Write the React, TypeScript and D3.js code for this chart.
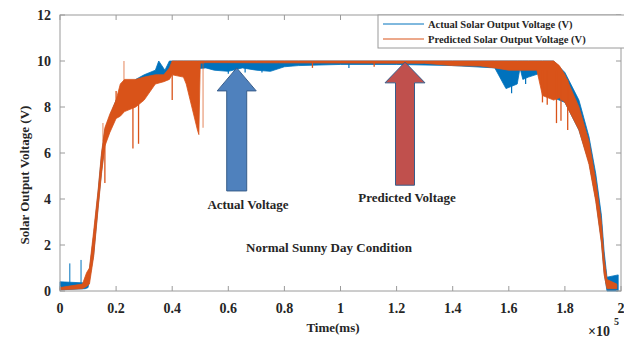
import * as d3 from "d3";

// time in units of 1e5 ms, voltage in V (envelope of the noisy traces)
const actualTime = [0, 0.09, 0.1, 0.12, 0.136, 0.148, 0.16, 0.178, 0.2, 0.23, 0.27, 0.3, 0.34, 0.352, 0.374, 0.39, 0.42, 0.52, 0.55, 0.6, 0.65, 0.7, 0.75, 0.8, 0.85, 1.0, 1.2, 1.4, 1.55, 1.59, 1.63, 1.64, 1.65, 1.67, 1.72, 1.76, 1.8, 1.85, 1.886, 1.91, 1.93, 1.94, 1.95, 1.99];
const actualLow = [0.05, 0.1, 0.15, 1.6, 3.7, 5.2, 6.4, 7.0, 7.6, 8.2, 8.8, 9.0, 9.2, 9.4, 9.2, 9.4, 9.6, 9.7, 9.6, 9.55, 9.7, 9.6, 9.55, 9.75, 9.8, 9.85, 9.85, 9.8, 9.7, 8.8, 9.0, 9.7, 9.2, 9.3, 9.5, 8.4, 8.2, 7.0, 5.6, 4.0, 2.2, 0.8, 0.0, 0.0];
const actualHigh = [0.4, 0.35, 0.4, 2.4, 4.3, 5.9, 7.0, 7.6, 8.3, 8.8, 9.2, 9.4, 9.6, 10.0, 9.6, 10, 10, 10, 10, 10, 10, 10, 10, 10, 10, 10, 10, 10, 10, 10, 10, 10, 10, 10, 10, 10, 9.5, 8.3, 6.7, 5.1, 3.3, 1.7, 0.6, 0.7];
const actualSpikeTime = [0.035, 0.075];
const actualSpikeVal = [1.2, 1.35];
const actualDipTime = [0.6, 0.66, 0.72, 1.03, 1.61, 1.66];
const actualDipVal = [9.45, 9.5, 9.5, 9.7, 8.6, 9.0];

const predTime = [0, 0.08, 0.095, 0.105, 0.12, 0.136, 0.148, 0.16, 0.178, 0.2, 0.215, 0.23, 0.27, 0.3, 0.34, 0.37, 0.39, 0.4, 0.44, 0.45, 0.47, 0.49, 0.495, 0.5, 0.52, 0.78, 1.3, 1.4, 1.5, 1.55, 1.6, 1.7, 1.72, 1.76, 1.78, 1.8, 1.85, 1.886, 1.91, 1.93, 1.94, 1.95, 1.985];
const predLow = [0.05, 0.1, 0.2, 0.3, 1.5, 3.6, 5.1, 6.3, 6.9, 7.5, 7.6, 7.8, 8.0, 8.3, 9.0, 9.1, 9.2, 9.4, 9.3, 9.0, 8.0, 7.0, 6.8, 9.9, 9.93, 9.92, 9.9, 9.8, 9.78, 9.7, 9.6, 9.6, 8.5, 8.3, 8.4, 8.2, 7.0, 5.5, 3.9, 2.1, 0.7, 0.1, 0.1];
const predHigh = [0.15, 0.3, 0.8, 1.0, 2.6, 4.4, 6.0, 7.1, 7.7, 8.3, 9.0, 9.2, 9.2, 9.3, 9.4, 9.4, 9.7, 10, 10, 10, 10, 10, 10, 10, 10, 10, 10, 10, 10, 10, 10, 10, 10, 10, 9.8, 9.4, 8.0, 6.5, 4.8, 3.0, 1.4, 0.5, 0.3];
const predSpikeTime = [0.153, 0.16, 0.2, 0.228, 0.26, 0.28, 0.4, 0.51, 0.9, 1.12, 1.72, 1.737, 1.77, 1.786, 1.81];
const predSpikeFrom = [6.5, 6.5, 8.0, 9.0, 8.2, 8.3, 9.4, 10, 10, 10, 9.6, 9.6, 9.6, 9.6, 9.2];
const predSpikeTo = [7.3, 4.7, 8.7, 10.0, 6.2, 6.4, 8.3, 7.1, 9.7, 9.75, 8.2, 8.1, 7.3, 7.4, 7.0];
const predFaint = [0.153, 0.228, 0.51];

const xTicks = [0, 0.2, 0.4, 0.6, 0.8, 1, 1.2, 1.4, 1.6, 1.8, 2];
const yTicks = [0, 2, 4, 6, 8, 10, 12];

const width = 624;
const height = 339;
const left = 60, right = 621, top = 15, bottom = 291;
const blue = "#0072BD";
const orange = "#D95319";
const axisColor = "#9a9a9a";
const textColor = "#262626";
const font = "'Liberation Serif', 'Times New Roman', serif";

export default function App() {
  const x = d3.scaleLinear().domain([0, 2]).range([left, right]);
  const y = d3.scaleLinear().domain([0, 12]).range([bottom, top]);

  const actualArea = d3.area<number>()
    .x(i => x(actualTime[i]))
    .y0(i => y(actualLow[i]))
    .y1(i => y(actualHigh[i]));
  const predArea = d3.area<number>()
    .x(i => x(predTime[i]))
    .y0(i => y(predLow[i]))
    .y1(i => y(predHigh[i]));

  // block arrow: tip value, head-base value, shaft-bottom value (pixel half widths)
  const arrow = (t: number, tipV: number, headV: number, baseV: number, headHalf: number, shaftHalf: number) => {
    const cx = x(t);
    const pts = [
      [cx, y(tipV)],
      [cx + headHalf, y(headV)],
      [cx + shaftHalf, y(headV)],
      [cx + shaftHalf, y(baseV)],
      [cx - shaftHalf, y(baseV)],
      [cx - shaftHalf, y(headV)],
      [cx - headHalf, y(headV)],
    ];
    return "M" + pts.map(p => p.join(",")).join("L") + "Z";
  };

  return (
    <svg width={width} height={height} style={{ position: "fixed", left: 0, top: 0 }} fontFamily={font}>
      <rect x={0} y={0} width={width} height={height} fill="#fff" />

      <path d={actualArea(actualTime.map((_, i) => i)) ?? ""} fill={blue} stroke={blue} strokeWidth={0.8} />
      {actualSpikeTime.map((t, i) => (
        <line key={"as" + i} x1={x(t)} x2={x(t)} y1={y(0.3)} y2={y(actualSpikeVal[i])} stroke={blue} strokeWidth={1} />
      ))}
      {actualDipTime.map((t, i) => (
        <line key={"ad" + i} x1={x(t)} x2={x(t)} y1={y(10)} y2={y(actualDipVal[i])} stroke={blue} strokeWidth={1.2} />
      ))}

      <path d={predArea(predTime.map((_, i) => i)) ?? ""} fill={orange} stroke={orange} strokeWidth={0.8} />
      {predSpikeTime.map((t, i) => (
        <line key={"ps" + i} x1={x(t)} x2={x(t)} y1={y(predSpikeFrom[i])} y2={y(predSpikeTo[i])}
          stroke={orange} strokeOpacity={predFaint.includes(t) ? 0.55 : 1} strokeWidth={1.3} />
      ))}

      {/* axes box */}
      <rect x={left} y={top} width={right - left} height={bottom - top} fill="none" stroke={axisColor} strokeWidth={1} />
      {xTicks.map(t => (
        <g key={"xt" + t}>
          <line x1={x(t)} x2={x(t)} y1={bottom} y2={bottom - 5} stroke={axisColor} />
          <line x1={x(t)} x2={x(t)} y1={top} y2={top + 5} stroke={axisColor} />
          <text x={x(t)} y={313} textAnchor="middle" fontSize={14} fontWeight="bold" fill={textColor}>{t}</text>
        </g>
      ))}
      {yTicks.map(v => (
        <g key={"yt" + v}>
          <line x1={left} x2={left + 5} y1={y(v)} y2={y(v)} stroke={axisColor} />
          <line x1={right} x2={right - 5} y1={y(v)} y2={y(v)} stroke={axisColor} />
          <text x={51} y={y(v) + 5} textAnchor="end" fontSize={14} fontWeight="bold" fill={textColor}>{v}</text>
        </g>
      ))}

      <text x={333} y={332} textAnchor="middle" fontSize={13} fontWeight="bold" fill={textColor}>Time(ms)</text>
      <text x={588} y={336} fontSize={14} fontWeight="bold" fill={textColor}>×10</text>
      <text x={614} y={325} fontSize={10} fontWeight="bold" fill={textColor}>5</text>
      <text transform={`translate(29,${(top + bottom) / 2 + 22}) rotate(-90)`} textAnchor="middle" fontSize={13} fontWeight="bold" fill={textColor}>
        Solar Output Voltage (V)
      </text>

      {/* legend */}
      <rect x={378} y={15} width={250} height={33} fill="#fff" stroke={axisColor} />
      <line x1={383} x2={424} y1={24} y2={24} stroke={blue} strokeWidth={1} />
      <line x1={383} x2={424} y1={39} y2={39} stroke={orange} strokeWidth={1} />
      <text x={428} y={28} fontSize={10.5} fontWeight="bold" fill={textColor}>Actual Solar Output Voltage (V)</text>
      <text x={428} y={43} fontSize={10.5} fontWeight="bold" fill={textColor}>Predicted Solar Output Voltage (V)</text>

      {/* annotation arrows */}
      <path d={arrow(0.63, 9.7, 8.7, 4.35, 19.5, 10)} fill="#4F81BD" stroke="#385D8A" strokeWidth={1} />
      <path d={arrow(1.23, 9.95, 9.05, 4.6, 20, 9.5)} fill="#C0504D" stroke="#385D8A" strokeWidth={1} />

      <text x={248} y={209} textAnchor="middle" fontSize={13} fontWeight="bold" fill={textColor}>Actual Voltage</text>
      <text x={407} y={202} textAnchor="middle" fontSize={13} fontWeight="bold" fill={textColor}>Predicted Voltage</text>
      <text x={329} y={252} textAnchor="middle" fontSize={13} fontWeight="bold" fill={textColor}>Normal Sunny Day Condition</text>
    </svg>
  );
}
